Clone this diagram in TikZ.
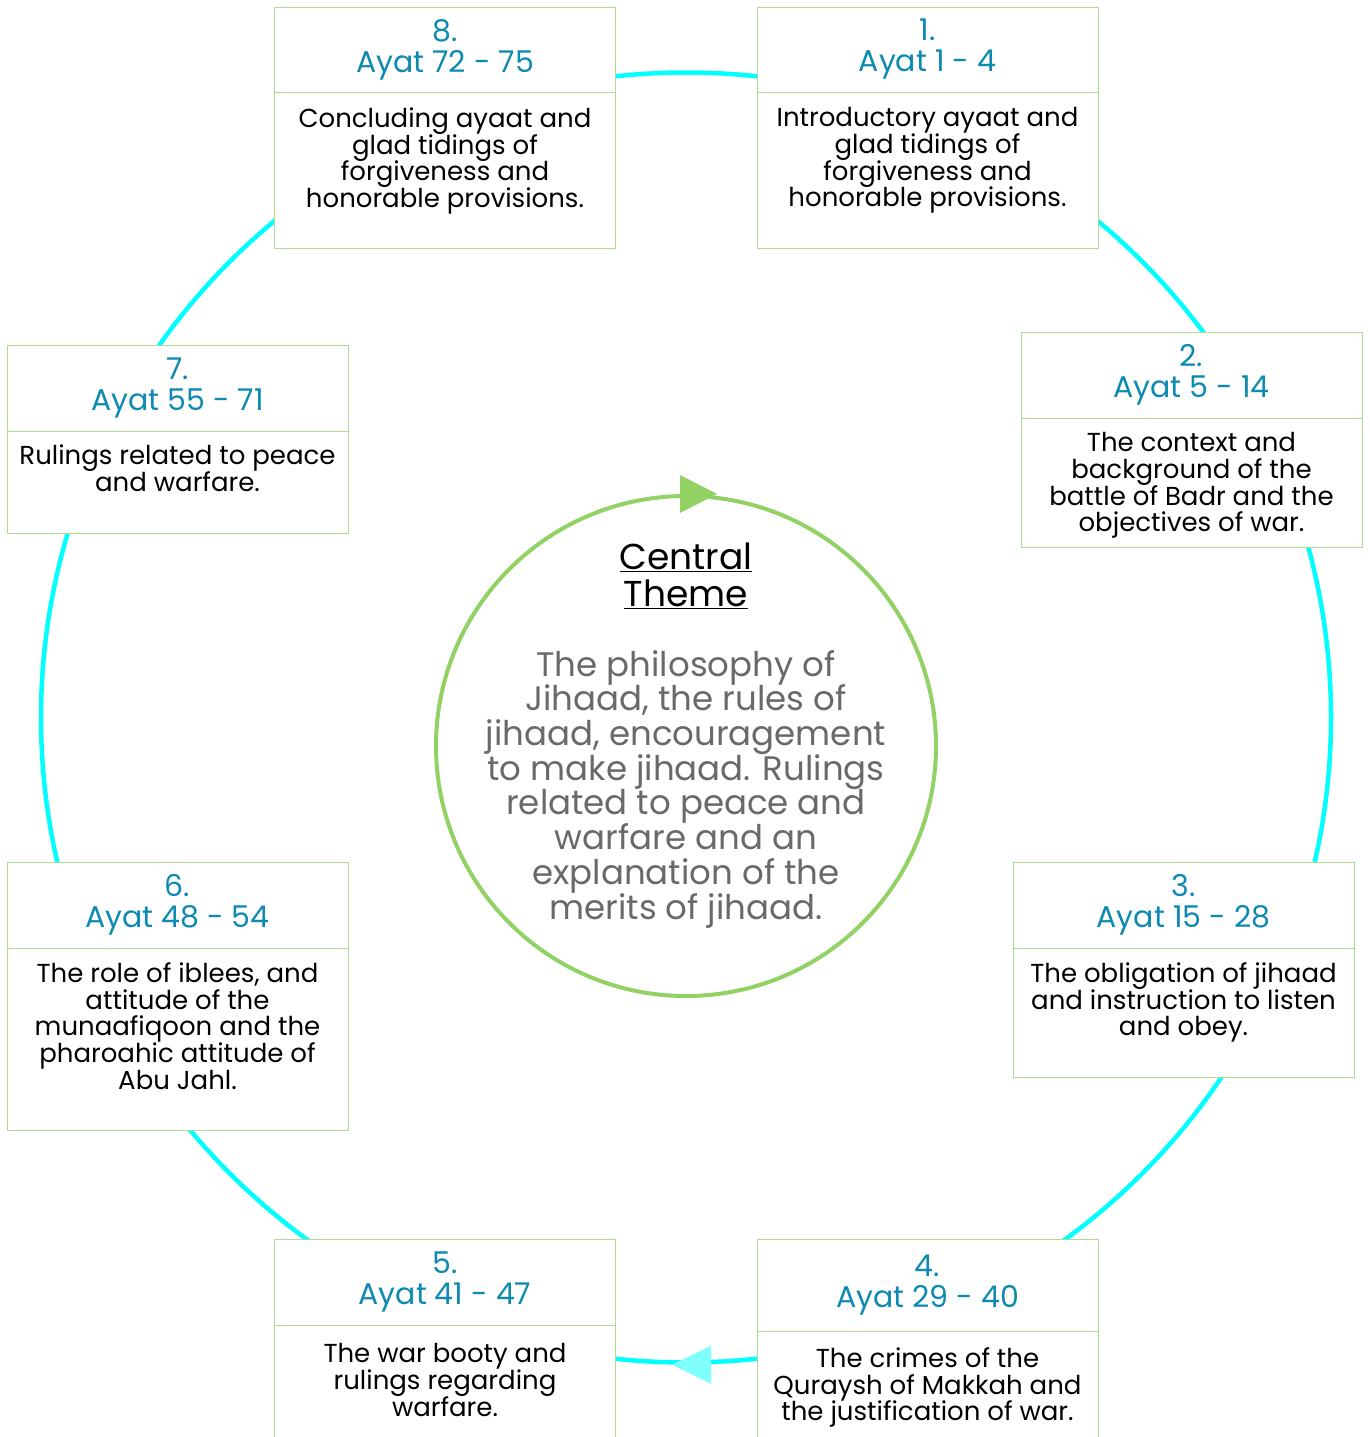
\documentclass[tikz,border=0pt]{standalone}
\usepackage{fontspec}
\setmainfont{Poppins}
\newcommand\mytightls{\lineskiplimit=-30pt\relax}
\definecolor{ringcyan}{RGB}{0,255,255}
\definecolor{lightcyan}{RGB}{128,255,255}
\definecolor{boxgreen}{RGB}{170,220,145}
\definecolor{circgreen}{RGB}{146,210,100}
\definecolor{hdrblue}{RGB}{14,138,178}
\definecolor{centgray}{RGB}{105,105,105}
\begin{document}
\begin{tikzpicture}[x=1pt,y=-1pt,
  hdrbox/.style={draw=boxgreen, line width=0.9pt, fill=white, minimum width=341pt, minimum height=85pt, inner sep=0pt, align=center, text=hdrblue, font=\fontsize{30}{31}\selectfont\mytightls},
  bodyframe/.style={draw=boxgreen, line width=0.9pt, fill=white, minimum width=341pt, inner sep=0pt, anchor=north},
  bodytext/.style={anchor=north, align=center, inner sep=0pt, text=black, font=\fontsize{26}{26.7}\selectfont\mytightls},
]
\useasboundingbox (0,0) rectangle (1369,1437);
% outer ring
\node[circle, draw=ringcyan, line width=4.5pt, minimum size=1290pt, inner sep=0pt] (ring) at (686,717.5) {};
\fill[lightcyan] ([xshift=-14pt]ring.south) -- ([xshift=25pt, yshift=19pt]ring.south) -- ([xshift=25pt, yshift=-19pt]ring.south) -- cycle;
% central circle
\node[circle, draw=circgreen, line width=4pt, minimum size=500pt, inner sep=0pt] (core) at (686,746) {};
\fill[circgreen] ([xshift=31pt]core.north) -- ([xshift=-6pt, yshift=19pt]core.north) -- ([xshift=-6pt, yshift=-19pt]core.north) -- cycle;
\node[align=center, inner sep=0pt, font=\fontsize{36}{37}\selectfont\mytightls] (ctitle) at (686,576) {\underline{Central}\\\underline{Theme}};
\node[align=center, inner sep=0pt, text=centgray, font=\fontsize{34}{34.7}\selectfont\mytightls] (ctext) at (686,789) {The philosophy of\\Jihaad, the rules of\\jihaad, encouragement\\to make jihaad. Rulings\\related to peace and\\warfare and an\\explanation of the\\merits of jihaad.};
% box 1
\node[hdrbox] (h1) at (927.5,49.5) {1.\\Ayat 1 - 4};
\node[bodyframe, minimum height=156pt] (f1) at (h1.south) {};
\node[bodytext] (t1) at ([yshift=-15pt]f1.north) {Introductory ayaat and\\glad tidings of\\forgiveness and\\honorable provisions.};
% box 8
\node[hdrbox] (h8) at (445,49.5) {8.\\Ayat 72 - 75};
\node[bodyframe, minimum height=156pt] (f8) at (h8.south) {};
\node[bodytext] (t8) at ([yshift=-15pt]f8.north) {Concluding ayaat and\\glad tidings of\\forgiveness and\\honorable provisions.};
% box 2
\node[hdrbox, minimum height=86pt] (h2) at (1191.5,375) {2.\\Ayat 5 - 14};
\node[bodyframe, minimum height=129pt] (f2) at (h2.south) {};
\node[bodytext] (t2) at ([yshift=-14pt]f2.north) {The context and\\background of the\\battle of Badr and the\\objectives of war.};
% box 7
\node[hdrbox, minimum height=86pt] (h7) at (177.5,388) {7.\\Ayat 55 - 71};
\node[bodyframe, minimum height=102pt] (f7) at (h7.south) {};
\node[bodytext] (t7) at ([yshift=-13pt]f7.north) {Rulings related to peace\\and warfare.};
% box 3
\node[hdrbox, minimum height=86pt] (h3) at (1183.5,905) {3.\\Ayat 15 - 28};
\node[bodyframe, minimum height=129pt] (f3) at (h3.south) {};
\node[bodytext] (t3) at ([yshift=-14pt]f3.north) {The obligation of jihaad\\and instruction to listen\\and obey.};
% box 6
\node[hdrbox, minimum height=86pt] (h6) at (177.5,905) {6.\\Ayat 48 - 54};
\node[bodyframe, minimum height=182pt] (f6) at (h6.south) {};
\node[bodytext] (t6) at ([yshift=-14pt]f6.north) {The role of iblees, and\\attitude of the\\munaafiqoon and the\\pharoahic attitude of\\Abu Jahl.};
% box 5
\node[hdrbox, minimum height=86pt] (h5) at (445,1282) {5.\\Ayat 41 - 47};
\node[bodyframe, minimum height=140pt] (f5) at (h5.south) {};
\node[bodytext] (t5) at ([yshift=-18pt]f5.north) {The war booty and\\rulings regarding\\warfare.};
% box 4
\node[hdrbox, minimum height=92pt] (h4) at (927.5,1285) {4.\\Ayat 29 - 40};
\node[bodyframe, minimum height=140pt] (f4) at (h4.south) {};
\node[bodytext] (t4) at ([yshift=-16pt]f4.north) {The crimes of the\\Quraysh of Makkah and\\the justification of war.};
\end{tikzpicture}
\end{document}
